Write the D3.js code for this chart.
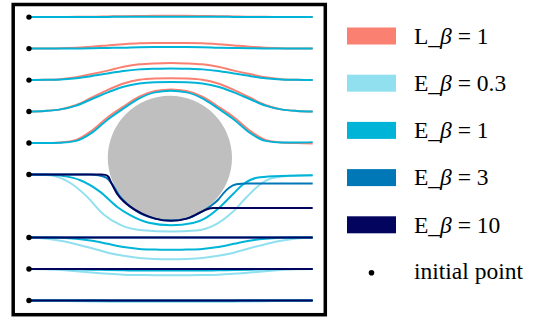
<!DOCTYPE html>
<html>
<head>
<meta charset="utf-8">
<script src="https://cdn.jsdelivr.net/npm/d3@7"></script>
<style>
  body { margin: 0; background: #fff; }
  svg { display: block; }
</style>
</head>
<body>
<svg id="chart" width="539" height="322"></svg>
<script>
// Trajectories of particles passing an obstacle, for one L model and four E models.

const seriesKeys   = ["L1", "E03", "E1", "E3", "E10"];
const seriesPrefix = ["L_", "E_", "E_", "E_", "E_"];
const seriesBeta   = ["1", "0.3", "1", "3", "10"];
const seriesColors = ["#fa8072", "#90e0ef", "#00b4d8", "#0077b6", "#03045e"];

// obstacle: centre and radius
const obstacle = { cx: 4.47, cy: 4.53, r: 1.97 };

// starting heights of the released particles (all at x = 0)
const startHeights = [0, 1, 2, 4, 5, 6, 7, 8, 9];

// common x samples for the smooth trajectories
const xs = [0, 0.5, 1, 1.5, 2, 2.5, 3, 3.5, 4, 4.5, 5, 5.5, 6, 6.5, 7, 7.5, 8, 8.5, 9];

// L, beta = 1 (upper half): rows 5..9
const lBeta1Rows = [
  [5, 5, 5.02, 5.1, 5.4, 5.82, 6.16, 6.47, 6.65, 6.7, 6.65, 6.47, 6.16, 5.82, 5.4, 5.1, 5.02, 5, 4.99],
  [6, 6.02, 6.07, 6.21, 6.45, 6.69, 6.89, 7.01, 7.05, 7.06, 7.05, 7.01, 6.89, 6.69, 6.45, 6.21, 6.07, 6.02, 6],
  [7, 7.01, 7.03, 7.09, 7.19, 7.3, 7.42, 7.5, 7.53, 7.54, 7.53, 7.5, 7.42, 7.3, 7.19, 7.09, 7.03, 7.01, 7],
  [8, 8, 8.01, 8.03, 8.06, 8.1, 8.14, 8.17, 8.18, 8.18, 8.18, 8.17, 8.14, 8.1, 8.06, 8.03, 8.01, 8, 8],
  [9, 9, 9, 9.01, 9.01, 9.02, 9.03, 9.035, 9.04, 9.04, 9.04, 9.035, 9.03, 9.02, 9.01, 9.01, 9, 9, 9]
];

// E, beta = 1 (upper half): rows 5..9
const eBeta1UpperRows = [
  [5, 5, 5.01, 5.07, 5.33, 5.75, 6.1, 6.42, 6.61, 6.66, 6.61, 6.42, 6.1, 5.75, 5.33, 5.07, 5.02, 5.02, 5.03],
  [6, 6.02, 6.07, 6.19, 6.4, 6.61, 6.79, 6.89, 6.93, 6.94, 6.93, 6.89, 6.79, 6.61, 6.4, 6.19, 6.07, 6.02, 6],
  [7, 7.01, 7.02, 7.06, 7.13, 7.21, 7.29, 7.34, 7.36, 7.37, 7.36, 7.34, 7.29, 7.21, 7.13, 7.06, 7.02, 7.01, 7],
  [8, 8, 8, 8.005, 8.01, 8.02, 8.03, 8.045, 8.05, 8.05, 8.05, 8.045, 8.03, 8.02, 8.01, 8.005, 8, 8, 8],
  [9, 9, 9, 9, 9, 9.005, 9.01, 9.01, 9.01, 9.01, 9.01, 9.01, 9.01, 9.005, 9, 9, 9, 9, 9]
];

// E, beta = 0.3 (lower half): rows 0..2 on xs, row 4 as points
const eBeta03Rows = [
  [0, 0, -0.01, -0.02, -0.03, -0.035, -0.04, -0.04, -0.04, -0.04, -0.04, -0.04, -0.04, -0.035, -0.03, -0.02, -0.01, 0, 0],
  [1, 0.99, 0.97, 0.93, 0.89, 0.85, 0.82, 0.81, 0.805, 0.8, 0.805, 0.81, 0.82, 0.85, 0.89, 0.93, 0.97, 0.99, 1],
  [2, 1.97, 1.9, 1.79, 1.66, 1.52, 1.42, 1.35, 1.32, 1.31, 1.32, 1.35, 1.42, 1.52, 1.66, 1.79, 1.9, 1.97, 2]
];
const eBeta03Row4 = [[0, 4], [0.4, 3.99], [0.8, 3.95], [1.3, 3.74], [1.84, 3.3], [2.36, 2.74], [2.9, 2.4],
  [3.6, 2.23], [4.5, 2.19], [5.3, 2.22], [5.9, 2.4], [6.45, 2.8], [6.9, 3.28], [7.3, 3.66], [7.7, 3.88], [8.3, 3.96], [9, 3.98]];

// E, beta = 1 (lower half)
const eBeta1LowerRows = [
  [0, 0, 0, 0, 0, -0.005, -0.01, -0.01, -0.01, -0.01, -0.01, -0.01, -0.01, -0.005, 0, 0, 0, 0, 0],
  [1, 1, 1, 0.99, 0.98, 0.97, 0.96, 0.95, 0.95, 0.95, 0.95, 0.95, 0.96, 0.97, 0.98, 0.99, 1, 1, 1],
  [2, 2, 1.99, 1.96, 1.9, 1.8, 1.7, 1.64, 1.62, 1.61, 1.62, 1.64, 1.7, 1.8, 1.9, 1.96, 1.99, 2, 2]
];
const eBeta1Row4 = [[0, 4], [0.57, 3.99], [1.1, 3.95], [1.63, 3.82], [2.26, 3.45], [2.79, 2.98], [3.21, 2.71],
  [3.8, 2.47], [4.5, 2.39], [5.2, 2.46], [5.6, 2.62], [6.07, 2.98], [6.49, 3.4], [6.81, 3.7], [7.23, 3.9], [7.76, 3.95], [9, 3.98]];

// E, beta = 3 (lower half): flat rows plus the deflected row 4
const eBeta3FlatRows = [0, 1, 2];
const eBeta3Row4 = [[0, 4], [1.9, 4], [2.2, 3.98], [2.45, 3.9], [2.65, 3.68], [2.85, 3.36], [3.1, 3.08], [3.5, 2.78],
  [4, 2.6], [4.5, 2.54], [5, 2.6], [5.4, 2.78], [5.75, 2.99], [6, 3.2], [6.18, 3.42], [6.35, 3.58], [6.58, 3.69], [6.9, 3.72], [9, 3.72]];

// E, beta = 10 (lower half)
const eBeta10FlatRows = [0, 1, 2];
const eBeta10Row4 = [[0, 4], [2.3, 4], [2.42, 3.99], [2.52, 3.93], [2.6, 3.76], [2.79, 3.4], [3, 3.15], [3.21, 2.98],
  [3.6, 2.75], [4, 2.6], [4.5, 2.53], [5, 2.6], [5.4, 2.78], [5.65, 2.9], [5.85, 2.94], [9, 2.94]];

const xEnd = 9;

// ---------- scales ----------
const svg = d3.select("#chart");
const x = d3.scaleLinear().domain([-0.5, 9.4]).range([13.2, 325.3]);
const y = d3.scaleLinear().domain([-0.45, 9.4]).range([314.7, 4.5]);

const line = d3.line()
  .x(d => x(d[0]))
  .y(d => y(d[1]))
  .curve(d3.curveMonotoneX);

const onXs = ys => ys.map((v, i) => [xs[i], v]);
const flat = h => [[0, h], [xEnd, h]];

// ---------- obstacle ----------
svg.append("ellipse")
  .attr("cx", x(obstacle.cx))
  .attr("cy", y(obstacle.cy))
  .attr("rx", x(obstacle.r) - x(0))
  .attr("ry", y(0) - y(obstacle.r))
  .attr("fill", "#bfbfbf");

// ---------- trajectories ----------
const trajectories = {
  L1:  lBeta1Rows.map(onXs),
  E03: eBeta03Rows.map(onXs).concat([eBeta03Row4]),
  E1:  eBeta1LowerRows.map(onXs).concat([eBeta1Row4], eBeta1UpperRows.map(onXs)),
  E3:  eBeta3FlatRows.map(flat).concat([eBeta3Row4]),
  E10: eBeta10FlatRows.map(flat).concat([eBeta10Row4])
};

const paths = svg.append("g").attr("fill", "none").attr("stroke-width", 2);
seriesKeys.forEach((key, i) => {
  paths.append("g")
    .attr("stroke", seriesColors[i])
    .selectAll("path")
    .data(trajectories[key])
    .join("path")
    .attr("d", line);
});

// ---------- initial points ----------
svg.append("g")
  .selectAll("circle")
  .data(startHeights)
  .join("circle")
  .attr("cx", x(0))
  .attr("cy", h => y(h))
  .attr("r", 2.7)
  .attr("fill", "#000");

// ---------- frame ----------
const [fx0, fx1] = x.range();
const [fy1, fy0] = y.range();
svg.append("rect")
  .attr("x", fx0).attr("y", fy0)
  .attr("width", fx1 - fx0).attr("height", fy1 - fy0)
  .attr("fill", "none")
  .attr("stroke", "#000")
  .attr("stroke-width", 3.5);

// ---------- legend ----------
const legend = svg.append("g")
  .attr("font-family", "'Liberation Serif', 'Times New Roman', serif")
  .attr("font-size", "23.5px")
  .attr("fill", "#000");

const rowY = i => 36 + i * 47.2;

seriesKeys.forEach((key, i) => {
  const cy = rowY(i);
  legend.append("rect")
    .attr("x", 347).attr("y", cy - 8.5)
    .attr("width", 49).attr("height", 17)
    .attr("fill", seriesColors[i]);
  const t = legend.append("text").attr("x", 414).attr("y", cy + 7.8);
  t.append("tspan").text(seriesPrefix[i]);
  t.append("tspan").attr("font-style", "italic").text("β");
  t.append("tspan").text(" = " + seriesBeta[i]);
});

const dotRow = rowY(5);
legend.append("circle")
  .attr("cx", 371.5).attr("cy", dotRow + 0.7)
  .attr("r", 2.8)
  .attr("fill", "#000");
legend.append("text")
  .attr("x", 414).attr("y", dotRow + 6.5)
  .text("initial point");
</script>
</body>
</html>
